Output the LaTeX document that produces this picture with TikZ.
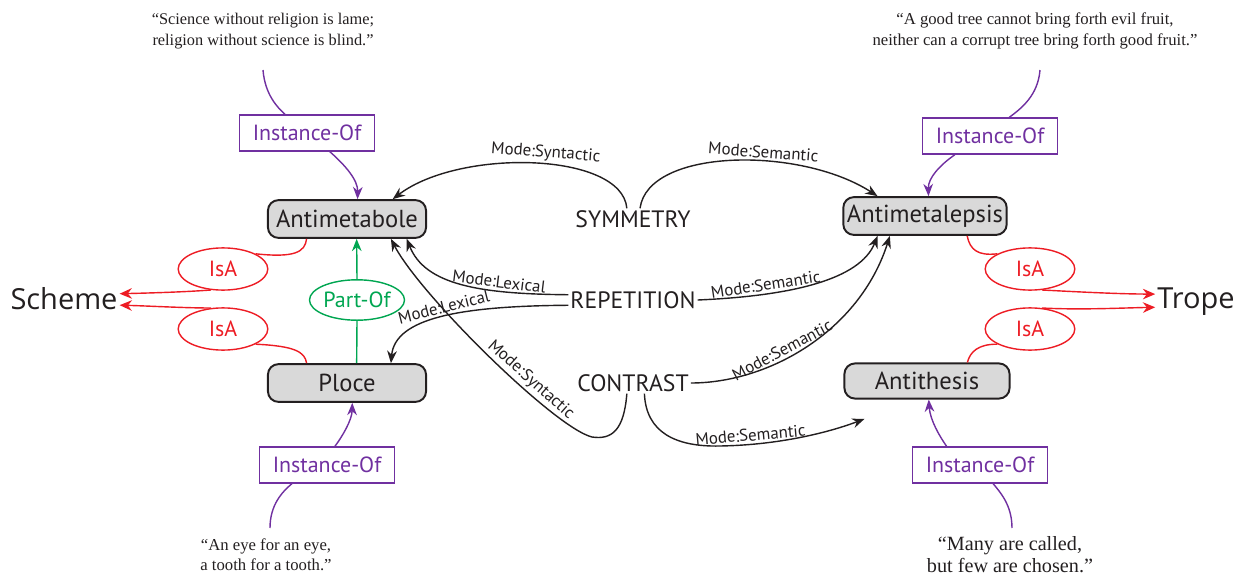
\documentclass[tikz,border=0pt]{standalone}
\usepackage{fontspec}
\setmainfont{Liberation Serif}
\newfontfamily\labfont{PT Sans}
\newfontfamily\headfont{Open Sans}
\usetikzlibrary{arrows.meta,shapes.geometric}
\definecolor{myred}{HTML}{ED1C24}
\definecolor{mypurple}{HTML}{7030A0}
\definecolor{mygreen}{HTML}{00A651}
\definecolor{myfill}{HTML}{D9D9D9}
\definecolor{myblack}{HTML}{231F20}
\tikzset{
  concept/.style={draw=myblack, line width=1.1pt, fill=myfill, rounded corners=6pt,
    minimum width=90pt, minimum height=21.5pt, inner sep=0pt, font=\labfont\fontsize{14}{16}\selectfont, text=myblack},
  root/.style={inner sep=1pt, font=\labfont\fontsize{13.5}{16}\selectfont, text=myblack},
  head/.style={inner sep=1pt, font=\headfont\fontsize{16.5}{19}\selectfont, text=myblack},
  isabox/.style={ellipse, draw=myred, line width=0.8pt, minimum width=51pt, minimum height=24pt, inner sep=0pt,
    text=myred, font=\labfont\fontsize{12.5}{15}\selectfont},
  partbox/.style={ellipse, draw=mygreen, line width=0.8pt, minimum width=51pt, minimum height=23pt, inner sep=0pt,
    text=mygreen, font=\labfont\fontsize{12.5}{15}\selectfont},
  instbox/.style={rectangle, draw=mypurple, line width=0.8pt, minimum width=77pt, minimum height=20.5pt, inner sep=0pt,
    text=mypurple, font=\labfont\fontsize{12.5}{15}\selectfont},
  quote/.style={align=center, inner sep=0pt, text=myblack},
  blk/.style={draw=myblack, line width=0.8pt, -{Stealth[length=7pt,width=5.5pt]}},
  redl/.style={draw=myred, line width=0.8pt},
  reda/.style={draw=myred, line width=0.8pt, -{Stealth[length=7pt,width=6pt]}},
  purl/.style={draw=mypurple, line width=0.8pt},
  pura/.style={draw=mypurple, line width=0.8pt, -{Stealth[length=7pt,width=5.5pt]}},
  grnl/.style={draw=mygreen, line width=0.8pt},
  grna/.style={draw=mygreen, line width=0.8pt, -{Stealth[length=7pt,width=5.5pt]}},
  mlab/.style={sloped, above, inner sep=1.5pt, text=myblack, font=\labfont\fontsize{9.6}{12}\selectfont},
}
\begin{document}
\begin{tikzpicture}[x=0.02cm, y=-0.02cm]
\useasboundingbox (0,0) rectangle (1242,575);

% concept nodes
\node[concept] (antimetabole) at (347,219) {Antimetabole};
\node[concept] (ploce) at (347,383) {Ploce};
\node[concept, minimum width=93pt] (antimetalepsis) at (925,216) {Antimetalepsis};
\node[concept, minimum width=94pt, minimum height=20pt] (antithesis) at (927,381) {Antithesis};

% roots
\node[root] (sym) at (633,219) {SYMMETRY};
\node[root] (rep) at (633,300) {REPETITION};
\node[root] (con) at (633,383) {CONTRAST};

% heads
\node[head] (scheme) at (64,299) {Scheme};
\node[head] (trope) at (1196,302) {Trope};

% relation nodes
\node[isabox] (isa1) at (223,269) {IsA};
\node[isabox] (isa2) at (223,329) {IsA};
\node[isabox] (isa3) at (1030,269) {IsA};
\node[isabox] (isa4) at (1030,329) {IsA};
\node[partbox] (partof) at (357,300) {Part-Of};
\node[instbox] (inst1) at (307,133) {Instance-Of};
\node[instbox] (inst2) at (990,136) {Instance-Of};
\node[instbox] (inst3) at (327,465) {Instance-Of};
\node[instbox] (inst4) at (980,465) {Instance-Of};

% quotes
\node[quote, font=\fontsize{9.3}{12}\selectfont] (q1) at (263,31) {``Science without religion is lame;\\religion without science is blind.''};
\node[quote, font=\fontsize{9.5}{12}\selectfont] (q2) at (1035,31) {``A good tree cannot bring forth evil fruit,\\neither can a corrupt tree bring forth good fruit.''};
\node[quote, font=\fontsize{9.5}{11.5}\selectfont] (q3) at (266,555) {``An eye for an eye,\\a tooth for a tooth.''};
\node[quote, font=\fontsize{11.5}{12.5}\selectfont] (q4) at (1010,555) {``Many are called,\\but few are chosen.''};

\coordinate (q1e) at (263,70);
\coordinate (q2e) at (1040,70);
\coordinate (q3e) at (270,528);
\coordinate (q4e) at (1012,528);

% purple instance-of connectors
\draw[purl] (q1e) .. controls (265,95) and (278,108) .. ([xshift=-12.5pt]inst1.north);
\draw[pura] ([xshift=13pt]inst1.south) .. controls (345,165) and (358,180) .. ([xshift=6pt]antimetabole.north);
\draw[purl] (q2e) .. controls (1038,95) and (1022,108) .. ([xshift=11pt]inst2.north);
\draw[pura] ([xshift=-20pt]inst2.south) .. controls (940,165) and (928,178) .. ([xshift=2pt]antimetalepsis.north);
\draw[purl] (q3e) .. controls (270,505) and (282,492) .. ([xshift=-20pt]inst3.south);
\draw[pura] ([xshift=4.5pt]inst3.north) .. controls (342,437) and (352,420) .. ([xshift=3pt]ploce.south);
\draw[purl] (q4e) .. controls (1012,505) and (1000,492) .. ([xshift=7.5pt]inst4.south);
\draw[pura] ([xshift=-19pt]inst4.north) .. controls (940,437) and (930,420) .. ([xshift=1pt]antithesis.south);

% red IsA connectors
\draw[redl] ([xshift=-23pt]antimetabole.south) .. controls (305,252) and (295,258) .. (isa1.25);
\draw[reda] (isa1.240) .. controls (185,292) and (150,293) .. ([yshift=3pt]scheme.east);
\draw[redl] ([xshift=-23pt]ploce.north) .. controls (305,352) and (295,346) .. (isa2.-25);
\draw[reda] (isa2.120) .. controls (185,308) and (150,306) .. ([yshift=-3.5pt]scheme.east);
\draw[redl] ([xshift=24pt]antimetalepsis.south) .. controls (970,250) and (978,256) .. (isa3.155);
\draw[reda] (isa3.-60) .. controls (1080,292) and (1120,294) .. ([yshift=4.5pt]trope.west);
\draw[redl] ([xshift=23pt]antithesis.north) .. controls (970,352) and (978,344) .. (isa4.205);
\draw[reda] (isa4.60) .. controls (1080,310) and (1120,308) .. ([yshift=-3pt]trope.west);

% green part-of
\draw[grnl] ([xshift=5.5pt]ploce.north) -- (partof.south);
\draw[grna] (partof.north) -- ([xshift=5.5pt]antimetabole.south);

% black mode connectors
\draw[blk] ([xshift=-3.5pt]sym.north) .. controls (622,152) and (460,148) .. ([xshift=26pt]antimetabole.north)
  node[mlab, pos=0.46] {Mode:Syntactic};
\draw[blk] ([xshift=4pt]sym.north) .. controls (648,148) and (800,146) .. ([xshift=-27pt]antimetalepsis.north)
  node[mlab, pos=0.6] {Mode:Semantic};
\draw[blk] ([yshift=3pt]rep.west) .. controls (480,294) and (425,285) .. ([xshift=34pt]antimetabole.south)
  node[mlab, pos=0.3] {Mode:Lexical};
\draw[blk] ([yshift=-3pt]rep.west) .. controls (460,306) and (395,318) .. ([xshift=25pt]ploce.north)
  node[mlab, pos=0.47] {Mode:Lexical};
\draw[blk] (rep.east) .. controls (790,296) and (860,280) .. ([xshift=-27pt]antimetalepsis.south)
  node[mlab, pos=0.27] {Mode:Semantic};
\draw[blk] (con.east) .. controls (770,383) and (860,330) .. ([xshift=-20pt]antimetalepsis.south)
  node[mlab, pos=0.4] {Mode:Semantic};
\draw[blk] ([xshift=-3.5pt]con.south) .. controls (624,430) and (612,440) .. (592,437)
  .. controls (555,428) and (420,295) .. ([xshift=25pt]antimetabole.south)
  node[mlab, pos=0.36] {Mode:Syntactic};
\draw[blk] ([xshift=6.5pt]con.south) .. controls (646,432) and (675,447) .. (720,446)
  .. controls (780,445) and (830,432) .. ([xshift=12pt,yshift=-11pt]antithesis.south west)
  node[mlab, pos=0.18] {Mode:Semantic};
\end{tikzpicture}
\end{document}
